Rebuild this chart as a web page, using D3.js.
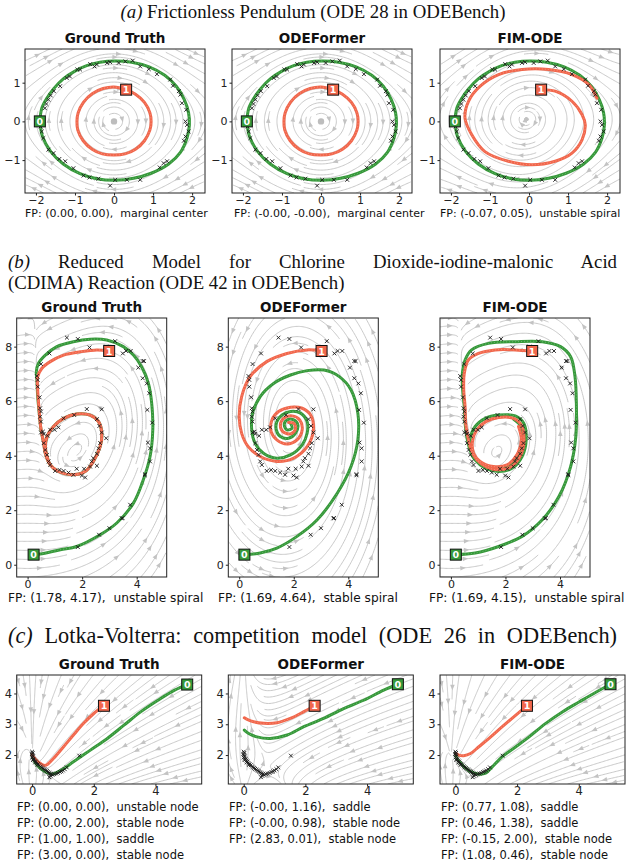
<!DOCTYPE html>
<html>
<head>
<meta charset="utf-8">
<script src="https://cdn.jsdelivr.net/npm/d3@7"></script>
<style>
  body { margin: 0; background: #fff; }
  svg { display: block; }
  .axis text { font-family: "DejaVu Sans", sans-serif; fill: #222; }
  .axis path, .axis line { stroke: #222; }
  .fp { font-family: "DejaVu Sans", sans-serif; fill: #111; white-space: pre; }
  .ptitle { font-family: "DejaVu Sans", sans-serif; font-weight: bold; fill: #111; }
  .stitle { font-family: "Liberation Serif", "Times New Roman", serif; fill: #111; white-space: pre; }
</style>
</head>
<body>
<svg width="626" height="865"></svg>
<script>
var svg = d3.select("svg");

// ---------------- data ----------------
var panelTitles = ["Ground Truth", "ODEFormer", "FIM-ODE"];
var sectionTitles = [
  ["(a)", " Frictionless Pendulum (ODE 28 in ODEBench)"],
  ["(b)", " Reduced Model for Chlorine Dioxide-iodine-malonic Acid"],
  ["", "(CDIMA) Reaction (ODE 42 in ODEBench)"],
  ["(c)", " Lotka-Volterra: competition model (ODE 26 in ODEBench)"]
];

// fixed-point captions
var fpPend = ["FP: (0.00, 0.00),  marginal center", "FP: (-0.00, -0.00),  marginal center", "FP: (-0.07, 0.05),  unstable spiral"];
var fpCdima = ["FP: (1.78, 4.17),  unstable spiral", "FP: (1.69, 4.64),  stable spiral", "FP: (1.69, 4.15),  unstable spiral"];
var fpLV = [
  ["FP: (0.00, 0.00),  unstable node", "FP: (0.00, 2.00),  stable node", "FP: (1.00, 1.00),  saddle", "FP: (3.00, 0.00),  stable node"],
  ["FP: (-0.00, 1.16),  saddle", "FP: (-0.00, 0.98),  stable node", "FP: (2.83, 0.01),  stable node"],
  ["FP: (0.77, 1.08),  saddle", "FP: (0.46, 1.38),  saddle", "FP: (-0.15, 2.00),  stable node", "FP: (1.08, 0.46),  stable node"]
];

// tick values
var pendXTicks = [-2, -1, 0, 1, 2], pendYTicks = [-1, 0, 1];
var cdimaXTicks = [0, 2, 4], cdimaYTicks = [0, 2, 4, 6, 8];
var lvXTicks = [0, 2, 4], lvYTicks = [2, 3, 4];

// (a) pendulum trajectories
var pendGreen = [[-1.9,0],[-1.85,0.34],[-1.72,0.6],[-1.55,0.84],[-1.3,1.1],[-1.0,1.3],[-0.7,1.44],[-0.36,1.53],[0.03,1.56],[0.45,1.53],[0.9,1.41],[1.3,1.19],[1.6,0.9],[1.8,0.56],[1.91,0.22],[1.93,-0.1],[1.87,-0.43],[1.7,-0.8],[1.4,-1.1],[0.95,-1.34],[0.5,-1.47],[0.03,-1.52],[-0.44,-1.48],[-0.87,-1.35],[-1.3,-1.1],[-1.62,-0.78],[-1.83,-0.4],[-1.9,0]];
var pendRed = [[0.31,0.82],[0.55,0.7],[0.78,0.49],[0.92,0.22],[0.95,0],[0.92,-0.22],[0.78,-0.5],[0.55,-0.72],[0.28,-0.84],[0,-0.87],[-0.3,-0.84],[-0.56,-0.72],[-0.79,-0.5],[-0.93,-0.22],[-0.95,0],[-0.92,0.22],[-0.78,0.5],[-0.55,0.72],[-0.28,0.85],[0,0.89],[0.31,0.82]];
var pendRedFim = [[0.31,0.82],[0.67,0.78],[1.1,0.52],[1.36,0.17],[1.44,-0.09],[1.36,-0.47],[1.1,-0.82],[0.67,-1.03],[0.07,-1.12],[-0.53,-1.03],[-1.13,-0.78],[-1.47,-0.34],[-1.64,0.09],[-1.55,0.52],[-1.25,0.91],[-0.78,1.21],[-0.18,1.34],[0.5,1.34],[1.1,1.21],[1.53,0.95],[1.74,0.6]];
var pendObs = [[-0.87,1.34],[-0.61,1.48],[-0.5,1.42],[-0.18,1.51],[0.12,1.51],[0.29,1.55],[0.48,1.57],[0.67,1.42],[0.89,1.35],[1.1,1.22],[1.44,1.08],[1.51,0.92],[1.66,0.78],[1.7,0.69],[1.74,0.47],[1.85,0.3],[1.83,0],[1.87,-0.09],[1.91,-0.26],[1.83,-0.39],[1.79,-0.5],[1.36,-1.03],[1.27,-1.08],[1.17,-1.19],[0.67,-1.51],[0.33,-1.51],[0.03,-1.51],[-0.1,-1.66],[-0.4,-1.48],[-0.63,-1.45],[-0.78,-1.4],[-1.04,-1.21],[-1.25,-1.03],[-1.4,-0.97],[-1.55,-0.82],[-1.68,-0.73],[-1.81,-0.43],[-1.85,-0.26],[-1.88,-0.13],[-1.77,0.34],[-1.73,0.45],[-1.68,0.56],[-1.62,0.67],[-1.54,0.78],[-1.38,0.91],[-1.21,1.12],[-1.13,1.16],[-0.94,1.34],[-0.44,1.47],[-0.1,1.53]];
var pendCenter = [[0, 0], [0, 0], null];

// (b) CDIMA trajectories
var cdimaGreenGT = [[0.22,0.37],[0.46,0.39],[1.2,0.55],[1.8,0.67],[2.66,1.1],[3.27,1.53],[3.88,2.26],[4.24,3.11],[4.49,3.97],[4.59,4.95],[4.55,5.92],[4.43,6.65],[4.18,7.26],[3.88,7.69],[3.51,8.0],[2.9,8.24],[2.29,8.27],[1.68,8.18],[1.07,8.0],[0.65,7.69],[0.4,7.39],[0.32,7.08],[0.34,6.78],[0.37,6.17],[0.44,5.43],[0.49,4.95],[0.59,4.46],[0.65,4.09],[0.83,3.66],[1.13,3.42],[1.62,3.3],[2.11,3.42],[2.41,3.79],[2.66,4.33],[2.72,4.82],[2.6,5.25],[2.29,5.49],[1.8,5.53],[1.32,5.37],[0.95,5.07],[0.71,4.7],[0.65,4.33],[0.71,3.97],[0.83,3.66],[1.13,3.42],[1.62,3.3],[2.11,3.42],[2.41,3.79],[2.66,4.33]];
var cdimaRedGT = [[2.99,7.84],[2.54,7.88],[1.93,7.81],[1.32,7.69],[0.83,7.45],[0.52,7.2],[0.37,6.9],[0.37,6.41],[0.42,5.7],[0.48,5.05],[0.58,4.5],[0.65,4.09],[0.83,3.66],[1.13,3.42],[1.62,3.3],[2.11,3.42],[2.41,3.79],[2.66,4.33],[2.72,4.82],[2.6,5.25],[2.29,5.49],[1.8,5.53],[1.32,5.37],[0.95,5.07],[0.71,4.7],[0.65,4.33],[0.71,3.97],[0.83,3.66],[1.13,3.42],[1.62,3.3],[2.11,3.42],[2.41,3.79]];
var cdimaGreenOdef = [[0.19,0.37],[0.77,0.43],[1.38,0.61],[2.12,1.04],[2.86,1.65],[3.6,2.63],[4.1,3.6],[4.35,4.58],[4.35,5.56],[4.1,6.41],[3.67,6.9],[3.11,7.14],[2.49,7.12],[1.88,6.96],[1.26,6.65],[0.77,6.17],[0.49,5.56],[0.46,4.95],[0.58,4.46],[0.89,4.09],[1.38,3.91],[1.88,4.03],[2.31,4.4],[2.49,4.82],[2.49,5.25],[2.25,5.56],[1.88,5.62],[1.57,5.49],[1.38,5.25],[1.36,4.95],[1.51,4.7],[1.81,4.64],[2.06,4.82],[2.15,5.13],[2.0,5.31],[1.75,5.31],[1.65,5.13],[1.75,4.95],[1.94,5.01],[1.88,5.19]];
var cdimaRedOdef = [[3.02,7.84],[2.49,7.88],[1.75,7.75],[1.01,7.45],[0.4,6.9],[0.09,6.17],[0,5.43],[0.09,4.82],[0.33,4.33],[0.77,3.97],[1.38,3.79],[2.0,3.91],[2.49,4.33],[2.72,4.95],[2.62,5.49],[2.31,5.74],[1.88,5.78],[1.44,5.62],[1.2,5.31],[1.17,4.88],[1.38,4.58],[1.75,4.43],[2.12,4.58],[2.31,4.95],[2.22,5.31],[1.94,5.46],[1.63,5.37],[1.51,5.13],[1.6,4.88],[1.88,4.8],[2.06,4.97],[2.0,5.19],[1.81,5.22]];
var cdimaGreenFim = [[0.18,0.37],[0.89,0.43],[1.75,0.67],[2.61,1.04],[3.35,1.65],[3.96,2.5],[4.39,3.6],[4.58,4.7],[4.6,5.92],[4.55,6.9],[4.39,7.63],[4.02,8.0],[3.35,8.18],[2.36,8.18],[1.38,8.12],[0.76,7.88],[0.52,7.51],[0.42,7.02],[0.43,6.41],[0.49,5.8],[0.52,5.19],[0.58,4.7],[0.7,4.21],[0.89,3.85],[1.26,3.54],[1.75,3.42],[2.24,3.54],[2.61,3.97],[2.76,4.58],[2.67,5.19],[2.36,5.46],[1.75,5.49],[1.26,5.37],[0.89,5.07],[0.7,4.58],[0.74,4.09],[1.01,3.73],[1.5,3.51],[2.0,3.54],[2.42,3.91],[2.63,4.52],[2.58,5.07],[2.3,5.34]];
var cdimaRedFim = [[2.98,7.84],[2.36,7.88],[1.62,7.88],[1.01,7.75],[0.64,7.51],[0.49,7.02],[0.47,6.41],[0.52,5.8],[0.54,5.19],[0.62,4.7],[0.74,4.21],[0.95,3.85],[1.32,3.58],[1.75,3.48],[2.22,3.6],[2.55,4.0],[2.68,4.55],[2.58,5.13],[2.3,5.37],[1.75,5.4],[1.28,5.25],[0.95,4.95],[0.79,4.52],[0.83,4.09],[1.07,3.79],[1.56,3.6],[2.06,3.66],[2.42,4.03],[2.58,4.58],[2.48,5.07]];
var cdimaObs = [[1.44,8.33],[1.84,8.28],[2.27,7.97],[3.21,8.2],[0.8,7.75],[0.49,7.36],[2.88,8.0],[3.49,7.75],[3.61,7.84],[3.78,7.84],[4.22,7.47],[4.27,7.47],[4.06,7.23],[4.22,6.84],[4.37,6.65],[4.46,6.29],[4.39,5.68],[4.57,5.21],[4.41,4.48],[4.49,4.27],[4.49,3.79],[4.3,3.32],[4.3,3.28],[3.76,2.2],[3.48,1.71],[3.45,1.7],[3.0,1.34],[2.62,1.1],[1.84,0.65],[0.34,6.92],[0.37,6.78],[0.37,6.53],[0.44,6.14],[0.46,5.74],[0.49,5.62],[0.46,5.43],[0.49,5.25],[0.49,4.85],[0.59,4.8],[0.83,4.95],[0.99,4.95],[1.13,5.04],[1.32,5.37],[1.71,5.49],[2.17,5.71],[2.72,5.7],[2.54,5.34],[2.63,5.09],[2.72,4.85],[2.88,4.64],[2.66,4.46],[2.6,4.27],[2.54,4.07],[2.41,3.91],[2.35,3.79],[2.29,3.6],[2.54,3.63],[2.07,3.52],[1.99,3.27],[2.11,3.2],[1.8,3.52],[1.68,3.3],[1.5,3.38],[1.32,3.44],[1.17,3.48],[1.01,3.44],[0.83,3.66],[0.77,3.79],[0.71,4.03],[0.65,4.21],[0.59,4.46],[0.73,4.73],[0.56,4.88]];

// (c) Lotka-Volterra trajectories
var lvGreenGT = [[5.03,4.29],[4.62,4.11],[4.08,3.78],[3.53,3.41],[2.98,2.97],[2.44,2.54],[1.89,2.16],[1.34,1.78],[0.91,1.49],[0.63,1.38],[0.36,1.5],[0.14,1.7],[0.03,1.9],[0,2.02]];
var lvRedGT = [[2.33,3.6],[2.0,3.35],[1.67,3.03],[1.34,2.65],[1.02,2.27],[0.69,1.89],[0.42,1.66],[0.2,1.78],[0.05,1.93],[0,2.02]];
var lvGreenOdef = [[5.0,4.3],[4.54,4.11],[3.89,3.78],[3.24,3.51],[2.59,3.19],[1.95,2.92],[1.41,2.65],[0.86,2.54],[0.43,2.59],[0.16,2.7],[0.02,2.81]];
var lvRedOdef = [[2.3,3.6],[1.95,3.41],[1.51,3.19],[1.08,3.05],[0.65,3.03],[0.32,3.08],[0.11,3.16],[0.02,3.21]];
var lvGreenFim = [[5.03,4.3],[4.57,4.05],[4.02,3.73],[3.48,3.41],[2.93,3.03],[2.39,2.59],[1.96,2.27],[1.52,1.95],[1.2,1.62],[0.98,1.41],[0.76,1.38],[0.49,1.46],[0.22,1.68],[0.05,1.89],[0,2.05]];
var lvRedFim = [[2.32,3.6],[1.96,3.3],[1.52,2.92],[1.09,2.54],[0.76,2.27],[0.49,2.05],[0.27,1.98],[0.11,2.0],[0.02,2.05]];
var lvObs = [[0,2.11],[0.02,2.07],[-0.01,2.03],[0.01,1.99],[0.03,1.95],[0,1.92],[0.04,1.89],[0.06,1.86],[0.03,1.84],[0.09,1.82],[0.12,1.79],[0.1,1.76],[0.15,1.74],[0.19,1.71],[0.17,1.68],[0.23,1.67],[0.27,1.63],[0.3,1.6],[0.34,1.58],[0.37,1.55],[0.41,1.53],[0.44,1.5],[0.48,1.48],[0.51,1.45],[0.55,1.43],[0.58,1.4],[0.62,1.38],[0.6,1.33],[0.56,1.28],[0.66,1.36],[0.72,1.38],[0.78,1.4],[0.84,1.42],[0.9,1.45],[0.95,1.47],[1.0,1.5],[1.06,1.54],[1.12,1.6],[1.53,1.98]];

// vector fields behind the stream lines (ground truth ODEs and rough fits of the models)
function pendulum(x, y) { return [y, -0.9 * Math.sin(x)]; }
function pendulumFim(x, y) { return [y - 0.05, -0.9 * Math.sin(x + 0.07) + 0.12 * (y - 0.05)]; }
function cdima(a, b, d) {
  return function(x, y) { var q = d + x * x; return [a - x - 4 * x * y / q, b * x * (1 - y / q)]; };
}
function spiral(cx, cy, k, r) {
  return function(x, y) { var dx = x - cx, dy = y - cy; return [-k * dx - dy / r, r * dx - k * dy]; };
}
function lotka(s) {
  return function(x, y) { var X = x + s; return [X * (3 - X - 2 * y), y * (2 - X - y)]; };
}
function lotkaOdef(x, y) { return [x * (2.83 - x - 1.2 * y), 0.8 * y * (0.8 - x)]; }

// ---------------- layout ----------------
var rows = [
  {xd: [-2.28, 2.33], yd: [-1.85, 1.87], top: 49, h: 144, w: 180, lefts: [25, 232, 440],
   xt: pendXTicks, yt: pendYTicks, titleY: 43, fs: 11, fpFs: 11, fpX: [25, 234, 440], fpY: 217},
  {xd: [-0.4, 5.1], yd: [-0.45, 9.05], top: 318, h: 259, w: 150, lefts: [16.7, 228.3, 440],
   xt: cdimaXTicks, yt: cdimaYTicks, titleY: 311.5, fs: 11, fpFs: 12.2, fpX: [8, 218, 429], fpY: 602},
  {xd: [-0.5, 5.5], yd: [1.06, 4.6], top: 675, h: 109, w: 185, lefts: [16.7, 228.3, 440],
   xt: lvXTicks, yt: lvYTicks, titleY: 669, fs: 11.5, fpFs: 11.5, fpX: [17, 229, 441], fpY: 811}
];

var panels = [
  {row: 0, col: 0, field: pendulum, green: pendGreen, red: pendRed, obs: pendObs, fp: [fpPend[0]], dot: pendCenter[0]},
  {row: 0, col: 1, field: pendulum, green: pendGreen, red: pendRed, obs: pendObs, fp: [fpPend[1]], dot: pendCenter[1]},
  {row: 0, col: 2, field: pendulumFim, green: pendGreen, red: pendRedFim, obs: pendObs, fp: [fpPend[2]], dot: pendCenter[2]},
  {row: 1, col: 0, field: cdima(8.9, 1.4, 1), green: cdimaGreenGT, red: cdimaRedGT, obs: cdimaObs, fp: [fpCdima[0]]},
  {row: 1, col: 1, field: spiral(1.9, 5.0, 0.12, 1.8), green: cdimaGreenOdef, red: cdimaRedOdef, obs: cdimaObs, fp: [fpCdima[1]]},
  {row: 1, col: 2, field: cdima(8.45, 1.4, 1.29), green: cdimaGreenFim, red: cdimaRedFim, obs: cdimaObs, fp: [fpCdima[2]]},
  {row: 2, col: 0, field: lotka(0), green: lvGreenGT, red: lvRedGT, obs: lvObs, fp: fpLV[0]},
  {row: 2, col: 1, field: lotkaOdef, green: lvGreenOdef, red: lvRedOdef, obs: lvObs, fp: fpLV[1]},
  {row: 2, col: 2, field: lotka(0.15), green: lvGreenFim, red: lvRedFim, obs: lvObs, fp: fpLV[2]}
];

var GREEN = "#36993a", RED = "#f1674c", STREAM = "#c3c3c3";

// simple matplotlib-like streamplot: 30x30 occupancy mask, seeds spiral in from the border
function streamplot(field, xd, yd) {
  var N = 30, mask = new Uint8Array(N * N), out = [];
  var sx = xd[1] - xd[0], sy = yd[1] - yd[0];
  function dir(ax, ay) {
    var v = field(xd[0] + ax * sx, yd[0] + ay * sy);
    var u = v[0] / sx, w = v[1] / sy, s = Math.hypot(u, w);
    return (s > 1e-9 && isFinite(s)) ? [u / s, w / s] : null;
  }
  function key(ax, ay) { return Math.round(ay * (N - 1)) * N + Math.round(ax * (N - 1)); }
  function run(ax, ay, sgn, st) {
    var pts = [], len = 0, ds = 0.008;
    while (len < 4) {
      var d1 = dir(ax, ay); if (!d1) break;
      var d2 = dir(ax + sgn * d1[0] * ds / 2, ay + sgn * d1[1] * ds / 2); if (!d2) break;
      var nx = ax + sgn * d2[0] * ds, ny = ay + sgn * d2[1] * ds;
      if (nx < 0 || nx > 1 || ny < 0 || ny > 1) break;
      var k = key(nx, ny);
      if (k !== st.cur) {
        if (mask[k]) break;
        mask[k] = 1; st.traj.push(k); st.cur = k;
      }
      ax = nx; ay = ny; len += ds; pts.push([ax, ay]);
    }
    return {pts: pts, len: len};
  }
  var seeds = [], xf = 0, yf = 1, xl = N - 1, yl = N - 1, x = 0, y = 0, d = "r";
  for (var i = 0; i < N * N; i++) {
    seeds.push([x, y]);
    if (d === "r") { x++; if (x >= xl) { xl--; d = "u"; } }
    else if (d === "u") { y++; if (y >= yl) { yl--; d = "l"; } }
    else if (d === "l") { x--; if (x <= xf) { xf++; d = "d"; } }
    else { y--; if (y <= yf) { yf++; d = "r"; } }
  }
  seeds.forEach(function(s) {
    var k0 = s[1] * N + s[0];
    if (mask[k0]) return;
    var ax = s[0] / (N - 1), ay = s[1] / (N - 1);
    var st = {traj: [k0], cur: k0};
    mask[k0] = 1;
    var f = run(ax, ay, 1, st);
    st.cur = k0;
    var b = run(ax, ay, -1, st);
    if (f.len + b.len < 0.1) { st.traj.forEach(function(k) { mask[k] = 0; }); return; }
    var pts = b.pts.reverse().concat([[ax, ay]], f.pts);
    out.push(pts.map(function(p) { return [xd[0] + p[0] * sx, yd[0] + p[1] * sy]; }));
  });
  return out;
}

var defs = svg.append("defs");

panels.forEach(function(p, idx) {
  var r = rows[p.row], x0 = r.lefts[p.col];
  var x = d3.scaleLinear().domain(r.xd).range([x0, x0 + r.w]);
  var y = d3.scaleLinear().domain(r.yd).range([r.top + r.h, r.top]);
  var line = d3.line().x(function(d) { return x(d[0]); }).y(function(d) { return y(d[1]); });
  var smooth = d3.line().curve(d3.curveCatmullRom.alpha(0.5))
      .x(function(d) { return x(d[0]); }).y(function(d) { return y(d[1]); });

  defs.append("clipPath").attr("id", "clip" + idx)
    .append("rect").attr("x", x0).attr("y", r.top).attr("width", r.w).attr("height", r.h);

  var g = svg.append("g");
  var plot = g.append("g").attr("clip-path", "url(#clip" + idx + ")");

  // stream lines
  var streams = streamplot(p.field, r.xd, r.yd);
  plot.append("g").selectAll("path").data(streams).enter().append("path")
      .attr("d", line).attr("fill", "none").attr("stroke", STREAM).attr("stroke-width", 0.9);

  // one arrow head per stream line, half way along it
  plot.append("g").selectAll("path").data(streams.filter(function(s) { return s.length > 3; })).enter().append("path")
      .attr("fill", STREAM)
      .attr("d", function(s) {
        var px = s.map(function(q) { return [x(q[0]), y(q[1])]; }), cum = [0];
        for (var i = 1; i < px.length; i++) cum.push(cum[i - 1] + Math.hypot(px[i][0] - px[i - 1][0], px[i][1] - px[i - 1][1]));
        var n = Math.min(d3.bisectLeft(cum, cum[cum.length - 1] / 2), px.length - 2);
        var a = px[n], b = px[n + 1], dx = b[0] - a[0], dy = b[1] - a[1], l = Math.hypot(dx, dy) || 1;
        dx /= l; dy /= l;
        var tip = [a[0] + dx * 3, a[1] + dy * 3], base = [a[0] - dx * 2.5, a[1] - dy * 2.5];
        return "M" + tip + "L" + [base[0] - dy * 2.3, base[1] + dx * 2.3] + "L" + [base[0] + dy * 2.3, base[1] - dx * 2.3] + "Z";
      });

  if (p.dot) plot.append("circle").attr("cx", x(p.dot[0])).attr("cy", y(p.dot[1])).attr("r", 3.2).attr("fill", "#bdbdbd");

  // trajectories
  [[p.green, GREEN], [p.red, RED]].forEach(function(t) {
    plot.append("path").attr("d", smooth(t[0])).attr("fill", "none")
        .attr("stroke", t[1]).attr("stroke-width", 3).attr("stroke-linecap", "round").attr("stroke-linejoin", "round");
    plot.append("path").attr("d", smooth(t[0])).attr("fill", "none")
        .attr("stroke", "#fff").attr("stroke-opacity", 0.35).attr("stroke-width", 0.8).attr("stroke-dasharray", "1 2");
  });

  // observations
  plot.append("g").selectAll("path").data(p.obs).enter().append("path")
      .attr("transform", function(d) { return "translate(" + x(d[0]) + "," + y(d[1]) + ")"; })
      .attr("d", "M-1.9,-1.9L1.9,1.9M-1.9,1.9L1.9,-1.9")
      .attr("stroke", "#1a1a1a").attr("stroke-width", 0.9);

  // start labels
  [[p.green, GREEN, "0"], [p.red, RED, "1"]].forEach(function(t) {
    var cx = x(t[0][0][0]), cy = y(t[0][0][1]);
    g.append("rect").attr("x", cx - 5.5).attr("y", cy - 5.5).attr("width", 11).attr("height", 11)
        .attr("fill", t[1]).attr("stroke", "#111").attr("stroke-width", 1);
    g.append("text").attr("x", cx).attr("y", cy + 3.6).attr("text-anchor", "middle")
        .attr("font-family", "DejaVu Sans").attr("font-weight", "bold").attr("font-size", 9.5)
        .attr("fill", "#fff").text(t[2]);
  });

  // axes
  g.append("g").attr("class", "axis").attr("transform", "translate(0," + (r.top + r.h) + ")")
      .call(d3.axisBottom(x).tickValues(r.xt).tickSize(2.5).tickPadding(0.8).tickFormat(d3.format("")))
      .call(function(a) { a.select(".domain").remove(); a.selectAll("text").attr("font-size", r.fs); });
  g.append("g").attr("class", "axis").attr("transform", "translate(" + x0 + ",0)")
      .call(d3.axisLeft(y).tickValues(r.yt).tickSize(2.5).tickPadding(2).tickFormat(d3.format("")))
      .call(function(a) { a.select(".domain").remove(); a.selectAll("text").attr("font-size", r.fs); });
  g.append("rect").attr("x", x0).attr("y", r.top).attr("width", r.w).attr("height", r.h)
      .attr("fill", "none").attr("stroke", "#222").attr("stroke-width", 1);

  // panel title
  g.append("text").attr("class", "ptitle").attr("x", x0 + r.w / 2).attr("y", r.titleY)
      .attr("text-anchor", "middle").attr("font-size", 13.5).text(panelTitles[p.col]);

  // fixed point captions
  g.append("g").selectAll("text").data(p.fp).enter().append("text").attr("class", "fp")
      .attr("x", r.fpX[p.col]).attr("y", function(d, i) { return r.fpY + i * 16; })
      .attr("font-size", r.fpFs).text(function(d) { return d; });
});

// section titles: [x, baseline, anchor, font size, justify-to width]
var stPos = [[313, 18, "middle", 18.8, 0], [8, 268, "start", 18.8, 609], [8, 289, "start", 18.8, 0], [8, 643, "start", 22.3, 609]];
sectionTitles.forEach(function(t, i) {
  var s = stPos[i];
  var tx = svg.append("text").attr("class", "stitle").attr("x", s[0]).attr("y", s[1])
      .attr("text-anchor", s[2]).attr("font-size", s[3]);
  if (t[0]) tx.append("tspan").attr("font-style", "italic").text(t[0]);
  tx.append("tspan").text(t[1]);
  if (s[4]) {
    var w = tx.node().getComputedTextLength(), n = (t[0] + t[1]).split(" ").length - 1;
    if (w < s[4]) tx.attr("word-spacing", (s[4] - w) / n);
    else tx.attr("font-size", s[3] * s[4] / w);
  }
});
</script>
</body>
</html>
